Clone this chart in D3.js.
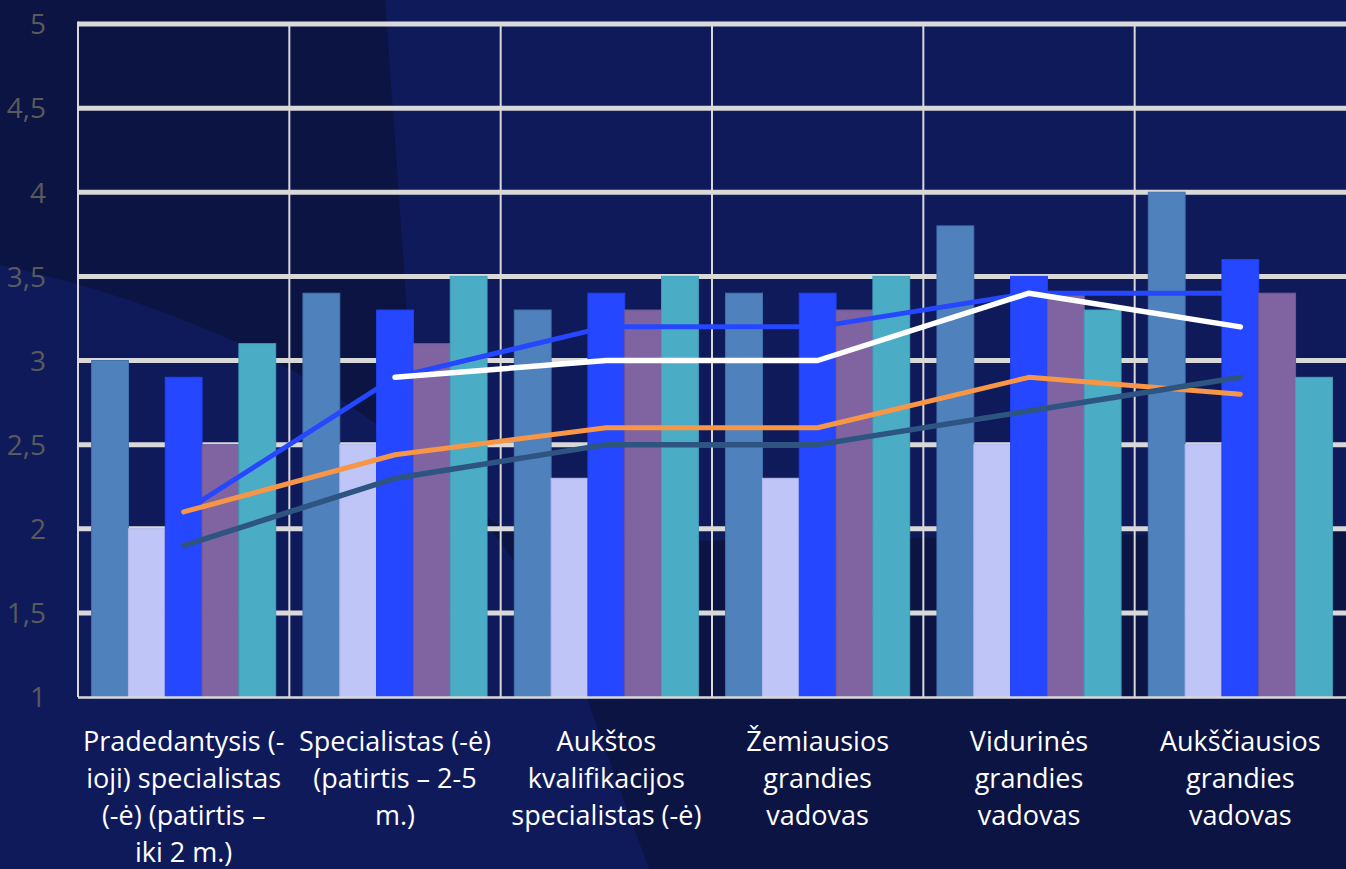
<!DOCTYPE html>
<html>
<head>
<meta charset="utf-8">
<script src="https://cdn.jsdelivr.net/npm/d3@7"></script>
<style>
  html, body { margin: 0; padding: 0; background: #0F1A5A; overflow: hidden; }
  svg { display: block; }
</style>
</head>
<body>
<svg id="chart" width="1346" height="869"></svg>
<script>
// ---------- DATA ----------
const categories = [
  ["Pradedantysis (-", "ioji) specialistas", "(-ė) (patirtis –", "iki 2 m.)"],
  ["Specialistas (-ė)", "(patirtis – 2-5", "m.)"],
  ["Aukštos", "kvalifikacijos", "specialistas (-ė)"],
  ["Žemiausios", "grandies", "vadovas"],
  ["Vidurinės", "grandies", "vadovas"],
  ["Aukščiausios", "grandies", "vadovas"]
];
const barSeriesNames = ["s1", "s2", "s3", "s4", "s5"];
const barS1 = [3.0, 3.4, 3.3, 3.4, 3.8, 4.0];
const barS2 = [2.0, 2.5, 2.3, 2.3, 2.5, 2.5];
const barS3 = [2.9, 3.3, 3.4, 3.4, 3.5, 3.6];
const barS4 = [2.5, 3.1, 3.3, 3.3, 3.4, 3.4];
const barS5 = [3.1, 3.5, 3.5, 3.5, 3.3, 2.9];
const lineBlue   = [2.1, 2.9, 3.2, 3.2, 3.4, 3.4];
const lineOrange = [2.1, 2.44, 2.6, 2.6, 2.9, 2.8];
const lineSlate  = [1.9, 2.3, 2.5, 2.5, 2.7, 2.9];
const lineWhite  = [null, 2.9, 3.0, 3.0, 3.4, 3.2];
const yTicks = [1, 1.5, 2, 2.5, 3, 3.5, 4, 4.5, 5];

// ---------- STYLE ----------
const barColors = ["#4F81BD", "#BFC5F6", "#2447FF", "#8064A2", "#4BACC6"];
const barEdges  = ["#4573AE", "#B3B9EC", "#2340F0", "#735A94", "#43A0BA"];
const lineDefs = [
  { values: lineBlue,   color: "#2447FF", width: 5 },
  { values: lineOrange, color: "#F79646", width: 5 },
  { values: lineSlate,  color: "#2E5482", width: 5.5 },
  { values: lineWhite,  color: "#FFFFFF", width: 5.5 }
];
const FONT = "'Open Sans', Lato, sans-serif";

const svg = d3.select("#chart");
const W = 1346, H = 869;
const pL = 78, pR = 1346, pT = 24, pB = 697;

// ---------- BACKGROUND ----------
svg.append("rect").attr("width", W).attr("height", H).attr("fill", "#0F1A5A");
svg.append("path")
  .attr("d", "M0,0 L385,0 Q398,180 408,330 Q430,440 490,520 Q520,540 620,542 L1346,532 L1346,869 L649,869 L584,690 Q530,570 470,505 Q300,330 0,265 Z")
  .attr("fill", "#0B1443");

// ---------- SCALES ----------
const idx = categories.map((d, i) => i);
const x = d3.scaleBand().domain(idx).range([pL, pR]).paddingInner(0).paddingOuter(0);
const xs = d3.scaleBand().domain(barSeriesNames).range([0, x.bandwidth()]).paddingInner(0).paddingOuter(0.37);
const y = d3.scaleLinear().domain([1, 5]).range([pB, pT]);

// ---------- GRID ----------
const grid = svg.append("g");
grid.selectAll("line.h").data(yTicks.filter(t => t > 1)).join("line")
  .attr("x1", pL).attr("x2", pR)
  .attr("y1", d => y(d)).attr("y2", d => y(d))
  .attr("stroke", "#D9D9D9").attr("stroke-width", 5);
grid.selectAll("line.v").data(idx.slice(1)).join("line")
  .attr("x1", d => x(d)).attr("x2", d => x(d))
  .attr("y1", pT).attr("y2", pB)
  .attr("stroke", "#D9D9D9").attr("stroke-width", 2);
grid.append("line").attr("x1", pL).attr("x2", pL).attr("y1", pT - 2.5).attr("y2", pB)
  .attr("stroke", "#D9D9D9").attr("stroke-width", 2);

// ---------- BARS ----------
const barSeries = [barS1, barS2, barS3, barS4, barS5];
const barData = [];
barSeries.forEach((vals, si) => vals.forEach((v, ci) => barData.push({ s: barSeriesNames[si], si, ci, v })));
svg.append("g").selectAll("rect").data(barData).join("rect")
  .attr("x", d => x(d.ci) + xs(d.s))
  .attr("width", xs.bandwidth())
  .attr("y", d => y(d.v))
  .attr("height", d => y(1) - y(d.v))
  .attr("fill", d => barColors[d.si])
  .attr("stroke", d => barEdges[d.si])
  .attr("stroke-width", 1);

// bottom axis line
svg.append("line").attr("x1", pL).attr("x2", pR).attr("y1", pB + 0.5).attr("y2", pB + 0.5)
  .attr("stroke", "#D9D9D9").attr("stroke-width", 2.5);

// ---------- LINES ----------
const lineGen = d3.line()
  .defined(d => d.v != null)
  .x(d => x(d.i) + x.bandwidth() / 2)
  .y(d => y(d.v));
lineDefs.forEach(ld => {
  svg.append("path")
    .datum(ld.values.map((v, i) => ({ v, i })))
    .attr("d", lineGen)
    .attr("fill", "none")
    .attr("stroke", ld.color)
    .attr("stroke-width", ld.width)
    .attr("stroke-linecap", "round")
    .attr("stroke-linejoin", "round");
});

// ---------- Y AXIS LABELS ----------
const yAxis = d3.axisLeft(y).tickValues(yTicks).tickSize(0).tickPadding(0)
  .tickFormat(d => String(d).replace(".", ","));
const ya = svg.append("g").attr("transform", "translate(46,0)").call(yAxis);
ya.select(".domain").remove();
ya.selectAll("text")
  .attr("fill", "#5A5A5A")
  .style("font-family", FONT)
  .style("font-size", "28px")
  .attr("dy", "0.35em");

// ---------- X LABELS ----------
const xl = svg.append("g");
categories.forEach((lines, i) => {
  const cx = x(i) + x.bandwidth() / 2;
  const t = xl.append("text")
    .attr("x", cx)
    .attr("y", 751)
    .attr("text-anchor", "middle")
    .attr("fill", "#FFFFFF")
    .style("font-family", FONT)
    .style("font-size", "27px");
  lines.forEach((ln, j) => {
    t.append("tspan").attr("x", cx).attr("y", 751 + j * 37).text(ln);
  });
});
</script>
</body>
</html>
